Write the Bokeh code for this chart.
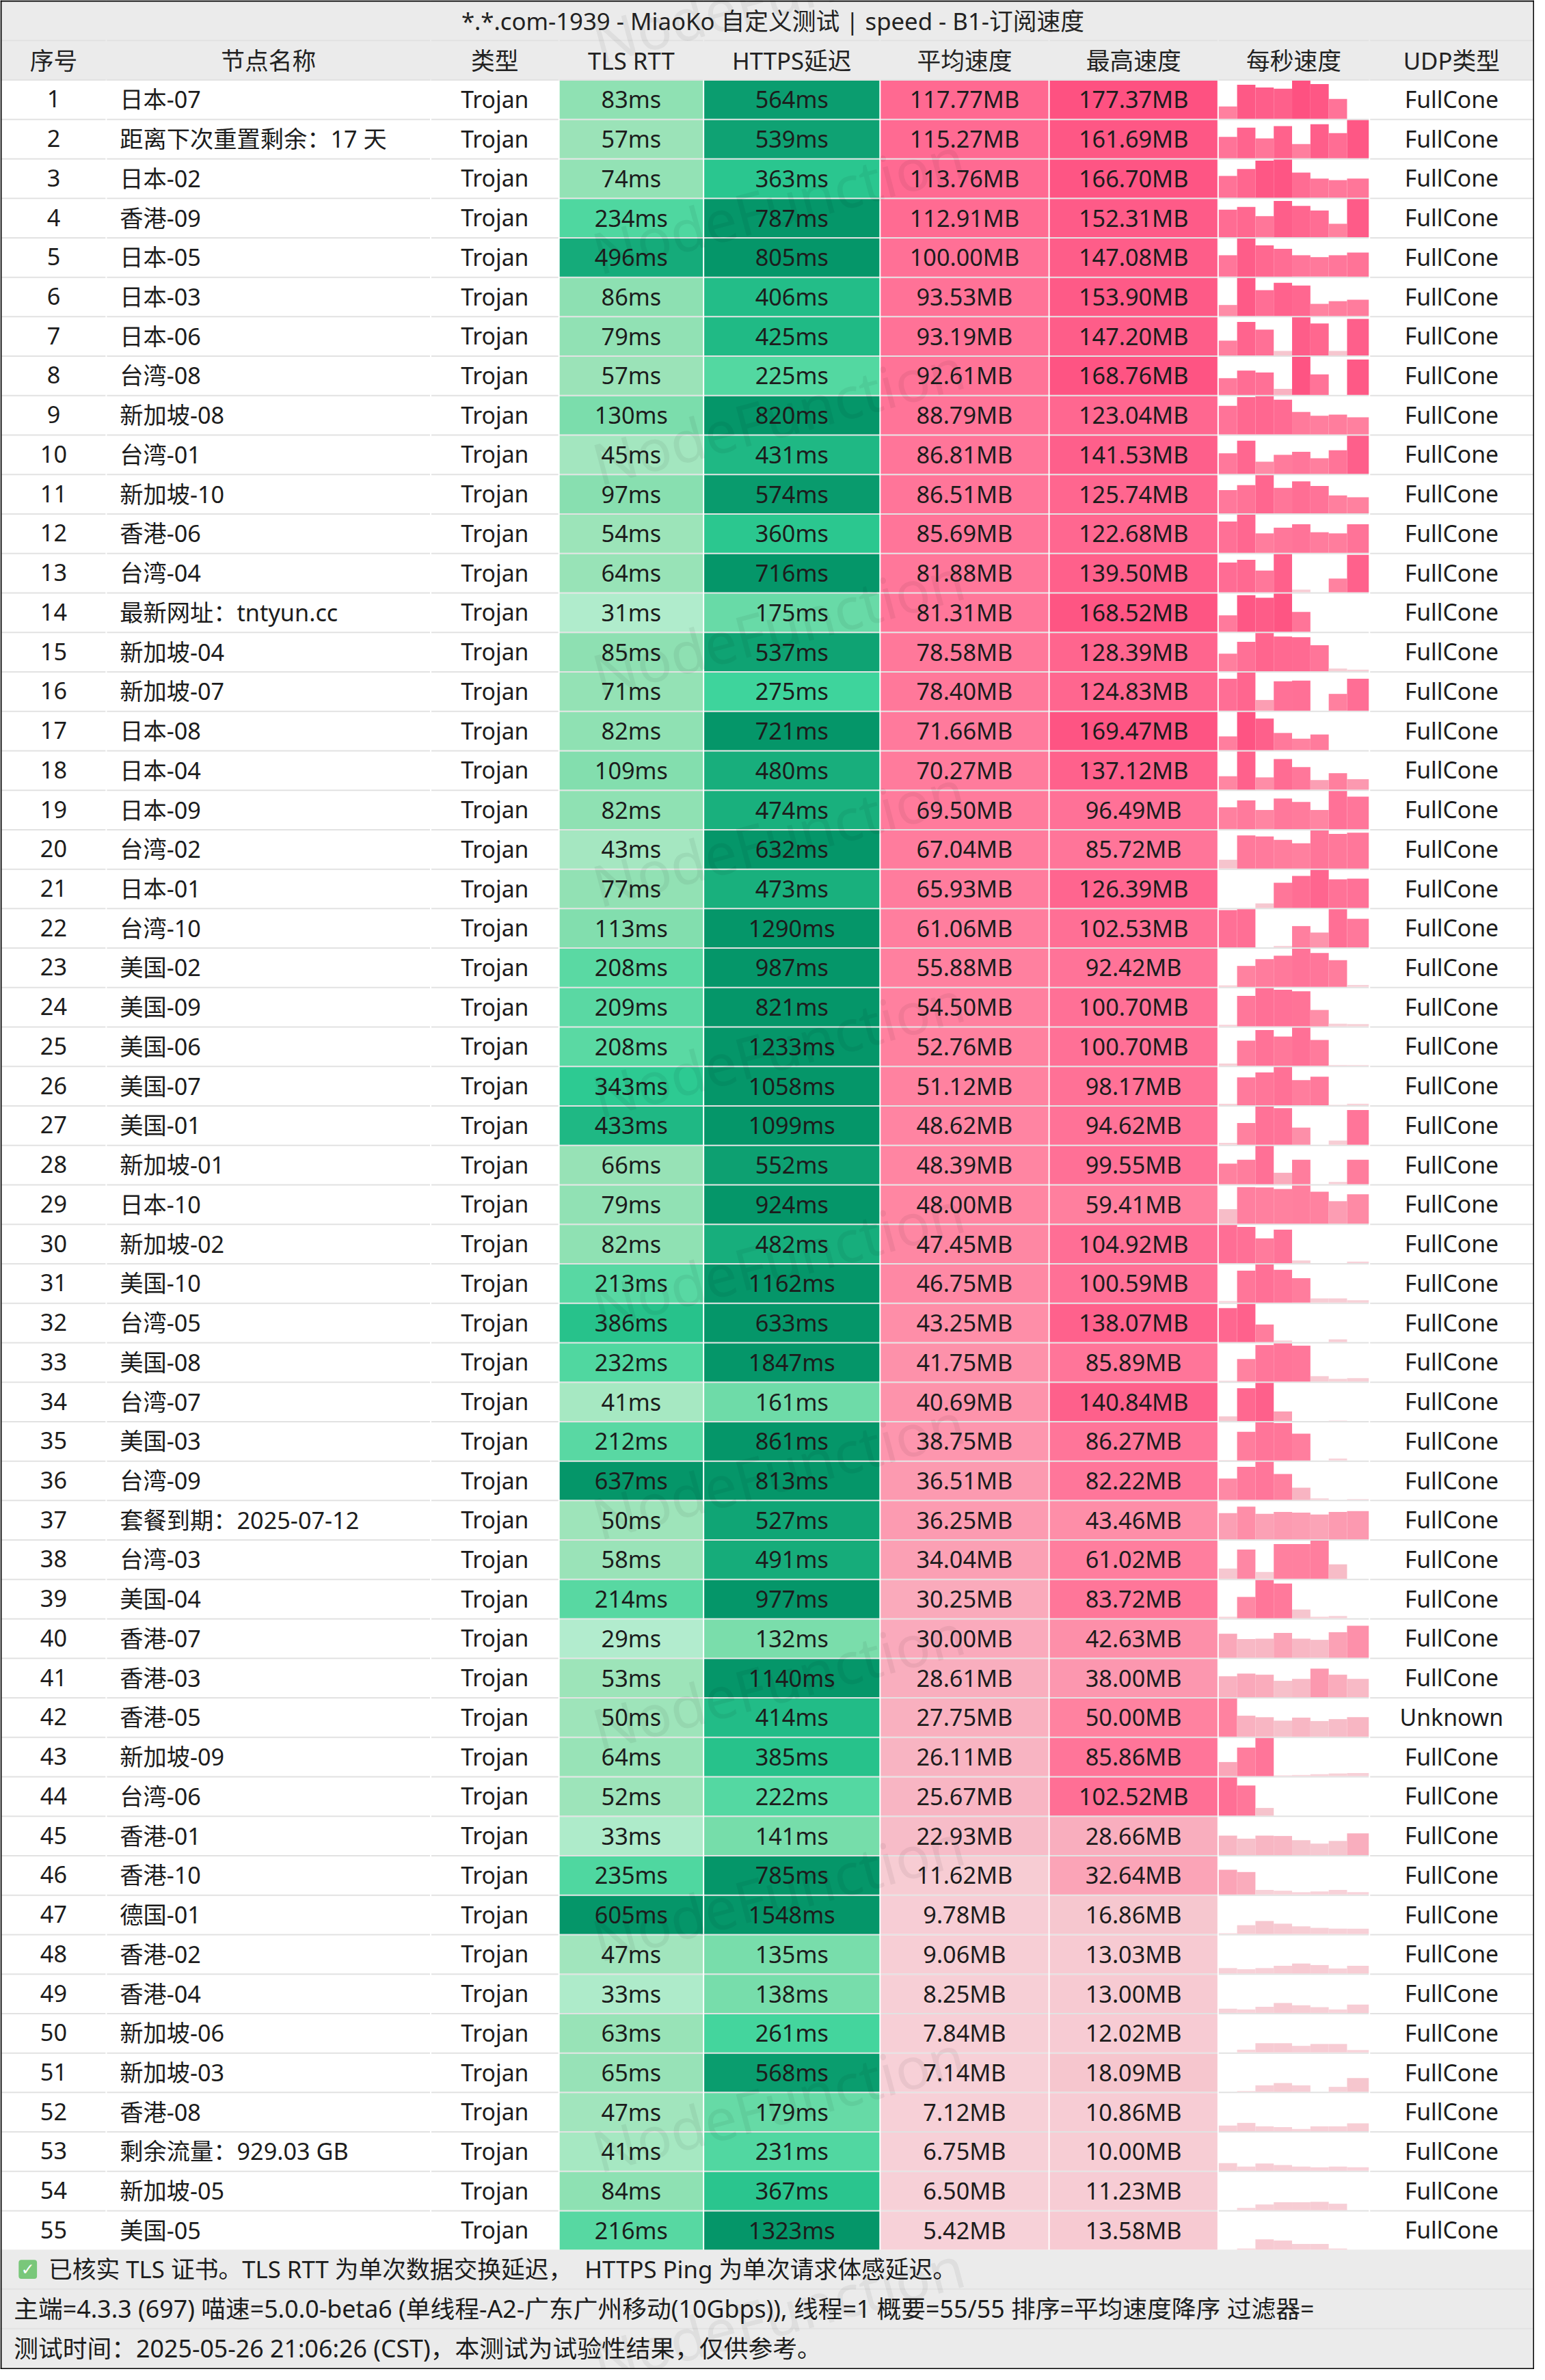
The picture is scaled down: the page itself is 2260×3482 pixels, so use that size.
from bokeh.plotting import figure
from bokeh.core.properties import value
from bokeh.embed import file_html
from bokeh.resources import INLINE
from bokeh.models import Range1d

# table data, one list per column

node_names = ["日本-07", "距离下次重置剩余：17 天", "日本-02", "香港-09", "日本-05", "日本-03", "日本-06", "台湾-08", "新加坡-08", "台湾-01",
              "新加坡-10", "香港-06", "台湾-04", "最新网址：tntyun.cc", "新加坡-04", "新加坡-07", "日本-08", "日本-04", "日本-09", "台湾-02",
              "日本-01", "台湾-10", "美国-02", "美国-09", "美国-06", "美国-07", "美国-01", "新加坡-01", "日本-10", "新加坡-02",
              "美国-10", "台湾-05", "美国-08", "台湾-07", "美国-03", "台湾-09", "套餐到期：2025-07-12", "台湾-03", "美国-04", "香港-07",
              "香港-03", "香港-05", "新加坡-09", "台湾-06", "香港-01", "香港-10", "德国-01", "香港-02", "香港-04", "新加坡-06",
              "新加坡-03", "香港-08", "剩余流量：929.03 GB", "新加坡-05", "美国-05"]

tls_rtt = [83, 57, 74, 234, 496, 86, 79, 57, 130, 45,
           97, 54, 64, 31, 85, 71, 82, 109, 82, 43,
           77, 113, 208, 209, 208, 343, 433, 66, 79, 82,
           213, 386, 232, 41, 212, 637, 50, 58, 214, 29,
           53, 50, 64, 52, 33, 235, 605, 47, 33, 63,
           65, 47, 41, 84, 216]

https_delay = [564, 539, 363, 787, 805, 406, 425, 225, 820, 431,
               574, 360, 716, 175, 537, 275, 721, 480, 474, 632,
               473, 1290, 987, 821, 1233, 1058, 1099, 552, 924, 482,
               1162, 633, 1847, 161, 861, 813, 527, 491, 977, 132,
               1140, 414, 385, 222, 141, 785, 1548, 135, 138, 261,
               568, 179, 231, 367, 1323]

avg_speed = ["117.77", "115.27", "113.76", "112.91", "100.00", "93.53", "93.19", "92.61", "88.79", "86.81",
             "86.51", "85.69", "81.88", "81.31", "78.58", "78.40", "71.66", "70.27", "69.50", "67.04",
             "65.93", "61.06", "55.88", "54.50", "52.76", "51.12", "48.62", "48.39", "48.00", "47.45",
             "46.75", "43.25", "41.75", "40.69", "38.75", "36.51", "36.25", "34.04", "30.25", "30.00",
             "28.61", "27.75", "26.11", "25.67", "22.93", "11.62", "9.78", "9.06", "8.25", "7.84",
             "7.14", "7.12", "6.75", "6.50", "5.42"]

max_speed = ["177.37", "161.69", "166.70", "152.31", "147.08", "153.90", "147.20", "168.76", "123.04", "141.53",
             "125.74", "122.68", "139.50", "168.52", "128.39", "124.83", "169.47", "137.12", "96.49", "85.72",
             "126.39", "102.53", "92.42", "100.70", "100.70", "98.17", "94.62", "99.55", "59.41", "104.92",
             "100.59", "138.07", "85.89", "140.84", "86.27", "82.22", "43.46", "61.02", "83.72", "42.63",
             "38.00", "50.00", "85.86", "102.52", "28.66", "32.64", "16.86", "13.03", "13.00", "12.02",
             "18.09", "10.86", "10.00", "11.23", "13.58"]

# per second bars, read as percent of the cell height
per_second = [
    [32, 89, 82, 79, 100, 91, 52, 0], [56, 80, 52, 84, 37, 89, 66, 100], [57, 75, 97, 100, 66, 50, 46, 50],
    [72, 79, 55, 95, 82, 70, 35, 100], [56, 100, 82, 73, 56, 51, 56, 63], [29, 100, 68, 87, 80, 32, 39, 43],
    [39, 88, 68, 12, 100, 84, 12, 96], [44, 64, 59, 16, 100, 54, 0, 93], [75, 98, 100, 91, 59, 49, 52, 45],
    [54, 87, 32, 50, 58, 41, 62, 100], [61, 74, 100, 67, 84, 72, 47, 42], [82, 100, 51, 66, 75, 54, 51, 75],
    [78, 85, 57, 100, 7, 0, 36, 98], [43, 96, 89, 100, 52, 0, 0, 0], [46, 77, 100, 91, 89, 68, 7, 4],
    [84, 100, 28, 77, 79, 0, 44, 84], [36, 100, 83, 45, 30, 41, 0, 0], [35, 100, 32, 80, 59, 25, 43, 27],
    [57, 75, 50, 80, 71, 50, 100, 85], [23, 87, 84, 75, 66, 100, 91, 94], [0, 0, 12, 66, 84, 100, 75, 77],
    [98, 100, 0, 4, 56, 39, 100, 75], [4, 55, 73, 82, 100, 89, 70, 5], [4, 80, 100, 96, 92, 43, 7, 6],
    [6, 66, 94, 77, 100, 68, 2, 2], [4, 73, 86, 100, 66, 75, 1, 4], [5, 57, 100, 96, 45, 0, 11, 91],
    [54, 64, 100, 30, 64, 0, 6, 64], [38, 96, 95, 91, 100, 84, 59, 77], [100, 95, 65, 88, 7, 0, 0, 4],
    [4, 84, 100, 86, 64, 11, 11, 6], [89, 100, 46, 4, 0, 0, 7, 0], [2, 59, 96, 100, 94, 14, 7, 9],
    [12, 86, 100, 25, 0, 0, 1, 0], [1, 75, 100, 98, 70, 0, 5, 0], [56, 87, 100, 68, 32, 4, 0, 2],
    [69, 86, 67, 72, 70, 65, 72, 74], [27, 77, 18, 91, 91, 100, 38, 0], [4, 56, 100, 91, 23, 4, 6, 0],
    [63, 49, 50, 65, 50, 47, 67, 84], [55, 62, 59, 43, 48, 75, 59, 48], [100, 55, 51, 42, 50, 41, 46, 51],
    [37, 75, 100, 2, 3, 5, 7, 8], [100, 79, 20, 0, 0, 0, 0, 0], [51, 43, 51, 50, 39, 30, 37, 57],
    [65, 59, 12, 10, 6, 8, 12, 6], [2, 23, 34, 27, 20, 16, 14, 14], [14, 11, 14, 20, 26, 22, 13, 20],
    [11, 9, 16, 26, 20, 15, 9, 22], [0, 7, 24, 24, 17, 22, 22, 6], [0, 2, 17, 23, 17, 0, 13, 36],
    [15, 22, 13, 11, 6, 13, 13, 21], [20, 11, 19, 15, 11, 9, 11, 9], [0, 6, 15, 21, 21, 22, 17, 0],
    [0, 3, 27, 24, 15, 15, 3, 0],
]

headers = ["序号", "节点名称", "类型", "TLS RTT", "HTTPS延迟", "平均速度", "最高速度", "每秒速度", "UDP类型"]
title_text = "*.*.com-1939 - MiaoKo 自定义测试 | speed - B1-订阅速度"
footer_lines = ["已核实 TLS 证书。TLS RTT 为单次数据交换延迟，\u00a0\u00a0HTTPS Ping 为单次请求体感延迟。",
                "主端=4.3.3 (697) 喵速=5.0.0-beta6 (单线程-A2-广东广州移动(10Gbps)), 线程=1 概要=55/55 排序=平均速度降序 过滤器=",
                "测试时间：2025-05-26 21:06:26 (CST)，本测试为试验性结果，仅供参考。"]
unknown_row = 41  # the only row that isn't FullCone

# colour ramps, (value, hex) stops

delay_stops = [(0, "#cdf8e9"), (50, "#9ee4ba"), (100, "#87dfaf"), (300, "#34d399"), (600, "#059669")]
speed_stops = [(0, "#f8d6dc"), (20, "#f6c4cd"), (36, "#fc9bb1"), (50, "#ff82a0"), (100, "#ff7096"), (180, "#fe5080")]


def ramp(stops, v):
    if v <= stops[0][0]:
        return stops[0][1]
    for (a, ca), (b, cb) in zip(stops, stops[1:]):
        if v <= b:
            t = (v - a) / (b - a)
            rgb = [round(int(ca[k:k + 2], 16) * (1 - t) + int(cb[k:k + 2], 16) * t) for k in (1, 3, 5)]
            return "#%02x%02x%02x" % tuple(rgb)
    return stops[-1][1]


# layout in reference pixels, the ranges squeeze it into the page

cols = [(2, 155), (157, 633), (635, 822), (824, 1035), (1037, 1295), (1297, 1544), (1546, 1793), (1795, 2016), (2018, 2258)]
first_row = 118
pitch = 58
cell_h = 56
bar_w = 27
footer_top = first_row + pitch * len(node_names) - 2
line_color = "#e2e2e2"
bar_color = "#ebebeb"
text_color = "#1c1c1c"
font = value("Noto Sans, Noto Sans CJK SC")
page_w, page_h = 2244, 3466
sc = page_w / 2260


def px(size):
    return "%.2fpx" % (size * sc)


p = figure(width=page_w, height=page_h, x_range=Range1d(0, 2260), y_range=Range1d(3482, 0),
           output_backend="svg", toolbar_location=None, min_border=0)
p.axis.visible = False
p.grid.visible = False
p.outline_line_color = None
p.background_fill_color = "white"
p.border_fill_color = "white"

# title, header and footer bands

p.quad(left=[0], right=[2260], top=[0], bottom=[first_row], color=bar_color, line_color=None)
p.quad(left=[0], right=[2260], top=[footer_top], bottom=[3482], color=bar_color, line_color=None)

# row separators, broken at every column

sl, sr, st, sb = [], [], [], []
for c in cols:
    for k in range(-2, len(node_names)):
        sl.append(c[0])
        sr.append(c[1])
        st.append(first_row + pitch * k - 2)
        sb.append(first_row + pitch * k)
p.quad(left=sl, right=sr, top=st, bottom=sb, color=line_color, line_color=None)

for k in range(1, 3):
    y = footer_top + pitch * k
    p.quad(left=[0], right=[2260], top=[y - 1], bottom=[y + 1], color=line_color, line_color=None)

# coloured cells

cl, cr, ct, cb, cc = [], [], [], [], []
for i in range(len(node_names)):
    top = first_row + pitch * i
    for c, v, stops in [(cols[3], tls_rtt[i], delay_stops), (cols[4], https_delay[i], delay_stops),
                        (cols[5], float(avg_speed[i]), speed_stops), (cols[6], float(max_speed[i]), speed_stops)]:
        cl.append(c[0])
        cr.append(c[1])
        ct.append(top)
        cb.append(top + cell_h)
        cc.append(ramp(stops, v))
p.quad(left=cl, right=cr, top=ct, bottom=cb, color=cc, line_color=None)

# per second bars, cell scale is the row peak but never under 50MB

bl, br, bt, bb, bc = [], [], [], [], []
for i, row in enumerate(per_second):
    scale = max(float(max_speed[i]), 50)
    bottom = first_row + pitch * i + cell_h
    for j, pct in enumerate(row):
        if pct == 0:
            continue
        bl.append(cols[7][0] + bar_w * j)
        br.append(cols[7][1] if j == len(row) - 1 else cols[7][0] + bar_w * (j + 1))
        bb.append(bottom)
        bt.append(bottom - cell_h * pct / 100)
        bc.append(ramp(speed_stops, pct / 100 * scale))
p.quad(left=bl, right=br, top=bt, bottom=bb, color=bc, line_color=None)

# watermark column

wm_y = [300 + 310 * k for k in range(-1, 11)]
p.text(x=[1146] * len(wm_y), y=wm_y, text=["NodeFunction"] * len(wm_y), text_font=font, text_font_size=px(85),
       text_align="center", text_baseline="middle", angle=15, angle_units="deg", text_color="#000000", text_alpha=0.055)

# black frame round the screenshot

p.quad(left=[0, 0, 0, 2258], right=[2260, 2260, 2, 2260], top=[0, 3480, 0, 0], bottom=[2, 3482, 3482, 3482],
       color="black", line_color=None)

# texts

def centred(xs, ys, texts, color=text_color, size=34.5):
    p.text(x=xs, y=ys, text=texts, text_font=font, text_font_size=px(size), text_align="center",
           text_baseline="middle", text_color=color)


def centre(c):
    return (c[0] + c[1]) / 2


centred([1138], [30], [title_text], color="#222222", size=35)
centred([centre(c) for c in cols], [88] * len(cols), headers, color="#222222", size=35)

ys = [first_row + pitch * i + cell_h / 2 - 1 for i in range(len(node_names))]
n = len(node_names)
centred([centre(cols[0])] * n, ys, [str(i + 1) for i in range(n)])
p.text(x=[176] * n, y=ys, text=node_names, text_font=font, text_font_size=px(34.5), text_align="left",
       text_baseline="middle", text_color=text_color)
centred([centre(cols[2])] * n, ys, ["Trojan"] * n, size=34)
centred([centre(cols[3])] * n, ys, [str(v) + "ms" for v in tls_rtt])
centred([centre(cols[4])] * n, ys, [str(v) + "ms" for v in https_delay])
centred([centre(cols[5])] * n, ys, [v + "MB" for v in avg_speed])
centred([centre(cols[6])] * n, ys, [v + "MB" for v in max_speed])
centred([centre(cols[8])] * n, ys, ["Unknown" if i == unknown_row else "FullCone" for i in range(n)], size=34)

# footer, the first line has the green check in front

p.quad(left=[27], right=[54], top=[footer_top + 15], bottom=[footer_top + 43], color="#79c77a", line_color=None, border_radius=4)
p.text(x=[40.5], y=[footer_top + 29], text=["✓"], text_font=value("DejaVu Sans"), text_font_size=px(24),
       text_font_style="bold", text_align="center", text_baseline="middle", text_color="white")
p.text(x=[71], y=[footer_top + 28], text=footer_lines[:1], text_font=font,
       text_font_size=px(35), text_align="left", text_baseline="middle", text_color=text_color)
p.text(x=[20, 20], y=[footer_top + 28 + pitch * k for k in (1, 2)], text=footer_lines[1:], text_font=font,
       text_font_size=px(36), text_align="left", text_baseline="middle", text_color=text_color)

open("out.html", "w").write(file_html(p, INLINE))
